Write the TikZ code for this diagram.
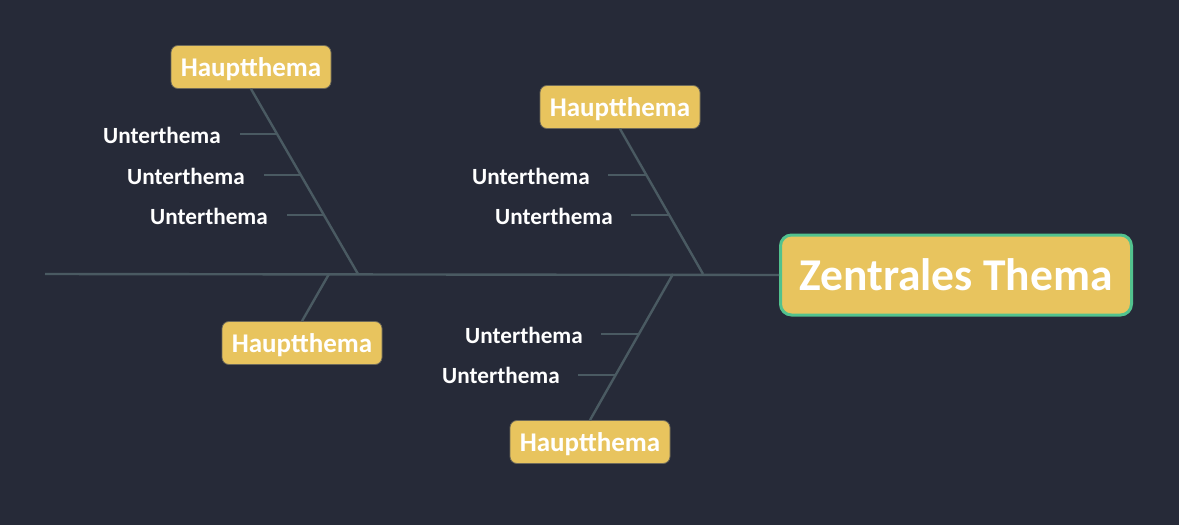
\documentclass[tikz,border=0pt]{standalone}
\usepackage{fontspec}
\setmainfont{Carlito}
\usetikzlibrary{positioning,calc}

\definecolor{bgdark}{HTML}{262A38}
\definecolor{topicfill}{HTML}{E8C45E}
\definecolor{topicline}{HTML}{6E6A5A}
\definecolor{centerline}{HTML}{52C28E}
\definecolor{bone}{HTML}{4A5A62}

\begin{document}
\begin{tikzpicture}[
  x=1pt, y=-1pt,
  font=\bfseries,
  main/.style={draw=topicline, line width=0.8pt, fill=topicfill, rounded corners=7pt, text=white,
    minimum width=160pt, minimum height=43pt, inner sep=0pt, text depth=0pt,
    font=\bfseries\fontsize{27}{32}\selectfont},
  center/.style={draw=centerline, line width=3pt, fill=topicfill, rounded corners=11pt, text=white,
    minimum width=351pt, minimum height=80pt, inner sep=0pt, text depth=0pt,
    font=\bfseries\fontsize{45.5}{54}\selectfont},
  sub/.style={text=white, anchor=east, inner sep=0pt, font=\bfseries\fontsize{23.2}{28}\selectfont},
  bone/.style={draw=bone, line width=2.4pt},
  twig/.style={draw=bone, line width=1.3pt},
]
  \fill[bgdark] (0,0) rectangle (1179,525);
  \useasboundingbox (0,0) rectangle (1179,525);

  \node[center] (zt) at (956,275) {Zentrales Thema};
  \coordinate (tail) at (45,274);

  \node[main] (h1) at (251,67) {Hauptthema};
  \node[main] (h2) at (620,107) {Hauptthema};
  \node[main] (h3) at (302,343) {Hauptthema};
  \node[main] (h4) at (590,442) {Hauptthema};

  % joints on the spine
  \coordinate (j1) at (358,274);
  \coordinate (j2) at (703,274);
  \coordinate (j3) at (329,274);
  \coordinate (j4) at (673,274);

  \draw[bone] (tail) -- (zt.west);
  \draw[bone] (h1.south) -- (j1);
  \draw[bone] (h2.south) -- (j2);
  \draw[bone] (h3.north) -- (j3);
  \draw[bone] (h4.north) -- (j4);

  % sub topics
  \node[sub] (u11) at (221,135) {Unterthema};
  \node[sub] (u12) at (245,176) {Unterthema};
  \node[sub] (u13) at (268,216) {Unterthema};
  \node[sub] (u21) at (590,176) {Unterthema};
  \node[sub] (u22) at (613,216) {Unterthema};
  \node[sub] (u41) at (583,335) {Unterthema};
  \node[sub] (u42) at (560,375) {Unterthema};

  \coordinate (s11) at (277,134);
  \coordinate (s12) at (301,175);
  \coordinate (s13) at (324,215);
  \coordinate (s21) at (646,175);
  \coordinate (s22) at (669,215);
  \coordinate (s41) at (639,334);
  \coordinate (s42) at (616,375);

  \draw[twig] ([xshift=19pt]u11.east |- s11) -- (s11);
  \draw[twig] ([xshift=19pt]u12.east |- s12) -- (s12);
  \draw[twig] ([xshift=19pt]u13.east |- s13) -- (s13);
  \draw[twig] ([xshift=18pt]u21.east |- s21) -- (s21);
  \draw[twig] ([xshift=18pt]u22.east |- s22) -- (s22);
  \draw[twig] ([xshift=18pt]u41.east |- s41) -- (s41);
  \draw[twig] ([xshift=18pt]u42.east |- s42) -- (s42);
\end{tikzpicture}
\end{document}
